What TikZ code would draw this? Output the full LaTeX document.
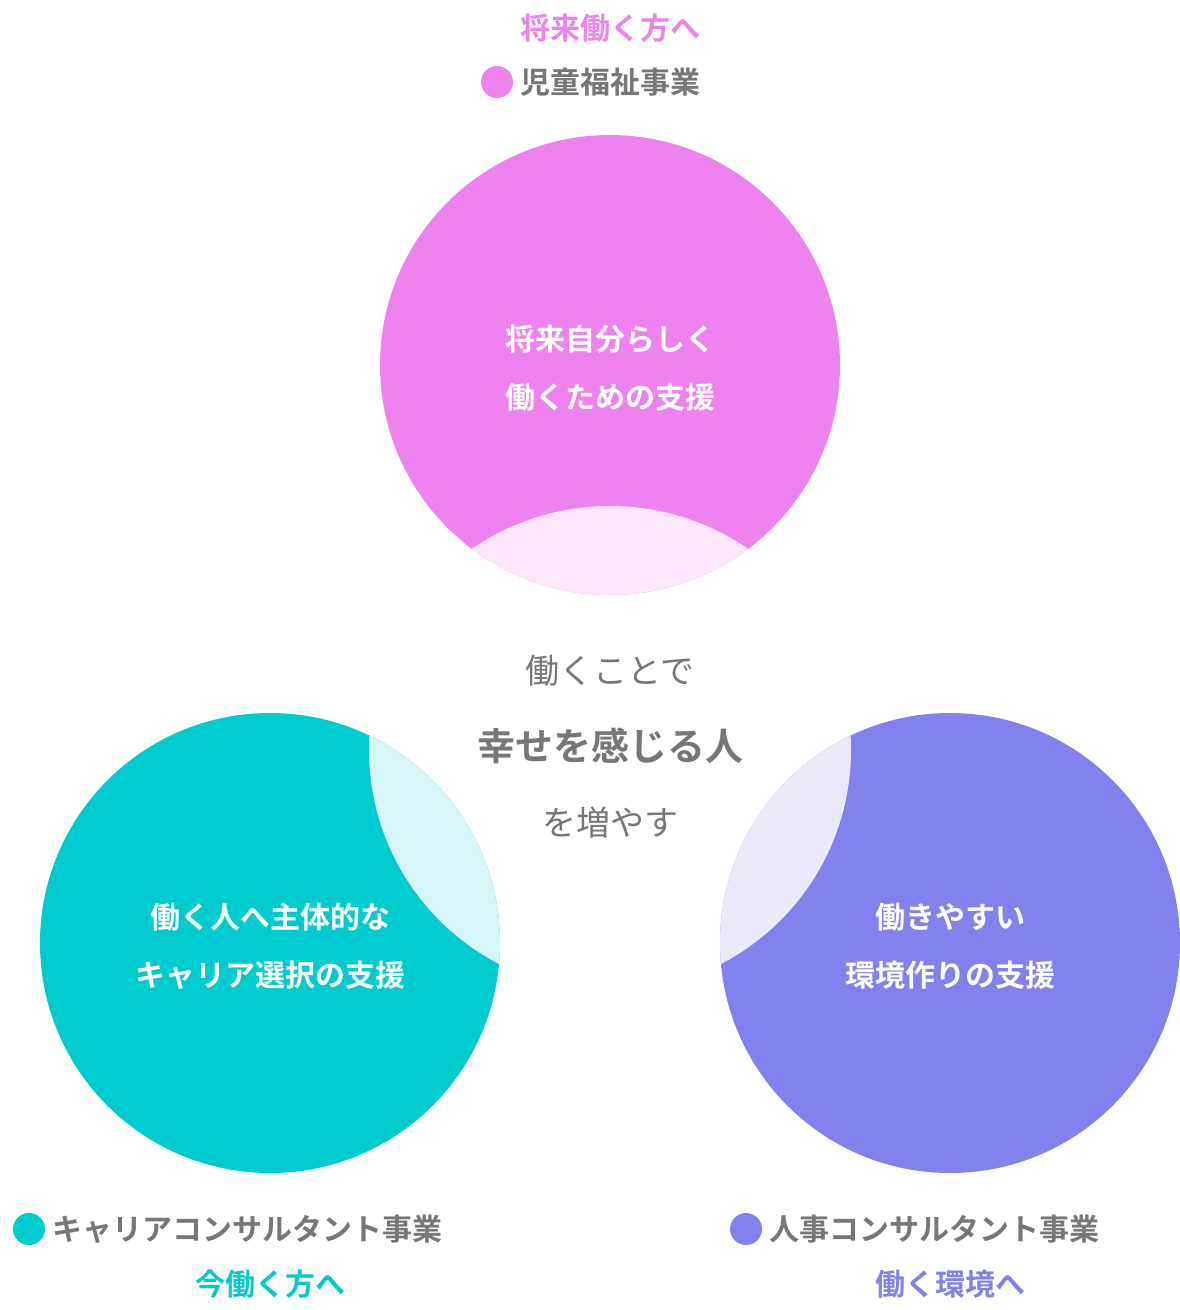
\documentclass[tikz,border=0pt]{standalone}
\usepackage{fontspec}
\setmainfont{Noto Sans CJK JP}
\newfontfamily\jpbold{Noto Sans CJK JP Bold}
\usetikzlibrary{positioning}
\definecolor{pinkc}{HTML}{EE82EE}
\definecolor{tealc}{HTML}{00CCD0}
\definecolor{purplec}{HTML}{8282EE}
\definecolor{pinkl}{HTML}{FCE8FA}
\definecolor{teall}{HTML}{D8F6F7}
\definecolor{purplel}{HTML}{EAEAFA}
\definecolor{grayt}{HTML}{777777}
\tikzset{
  bigcirc/.style={circle, inner sep=0pt, minimum size=460pt},
  incirc/.style={text=white, font=\jpbold\fontsize{30}{58}\selectfont, align=center},
  dot/.style={circle, inner sep=0pt, minimum size=32pt},
  bizname/.style={text=grayt, font=\jpbold\fontsize{30}{36}\selectfont, anchor=west},
  target/.style={font=\jpbold\fontsize{30}{36}\selectfont}
}
\begin{document}
\begin{tikzpicture}[x=1pt, y=-1pt]
  \useasboundingbox (0,0) rectangle (1180,1310);
  \coordinate (ctr) at (610,750);

  % circles
  \node[bigcirc, fill=pinkc]   (top)   at (610,365) {};
  \node[bigcirc, fill=tealc]   (left)  at (270,943) {};
  \node[bigcirc, fill=purplec] (right) at (950,943) {};
  \begin{scope}
    \clip (610,365) circle (230);
    \fill[pinkl] (ctr) circle (244);
  \end{scope}
  \begin{scope}
    \clip (270,943) circle (230);
    \fill[teall] (ctr) circle (241);
  \end{scope}
  \begin{scope}
    \clip (950,943) circle (230);
    \fill[purplel] (ctr) circle (241);
  \end{scope}

  \node[incirc] at (610,368) {将来自分らしく\\働くための支援};
  \node[incirc] at (270,946) {働く人へ主体的な\\キャリア選択の支援};
  \node[incirc] at (950,946) {働きやすい\\環境作りの支援};

  % center message
  \node[text=grayt, font=\fontsize{34}{40}\selectfont] (msg1) at (610,671) {働くことで};
  \node[text=grayt, font=\jpbold\fontsize{38}{44}\selectfont] (msg2) at (610,746) {幸せを感じる人};
  \node[text=grayt, font=\fontsize{34}{40}\selectfont] (msg3) at (610,823) {を増やす};

  % labels
  \node[target, text=pinkc] (tgtop) at (610,28) {将来働く方へ};
  \node[dot, fill=pinkc] (dottop) at (497,82) {};
  \node[bizname, right=4pt of dottop] (biztop) {児童福祉事業};

  \node[dot, fill=tealc] (dotleft) at (29,1229) {};
  \node[bizname, right=4pt of dotleft] (bizleft) {キャリアコンサルタント事業};
  \node[target, text=tealc] (tgleft) at (270,1284) {今働く方へ};

  \node[dot, fill=purplec] (dotright) at (746,1229) {};
  \node[bizname, right=4pt of dotright] (bizright) {人事コンサルタント事業};
  \node[target, text=purplec] (tgright) at (950,1284) {働く環境へ};
\end{tikzpicture}
\end{document}
